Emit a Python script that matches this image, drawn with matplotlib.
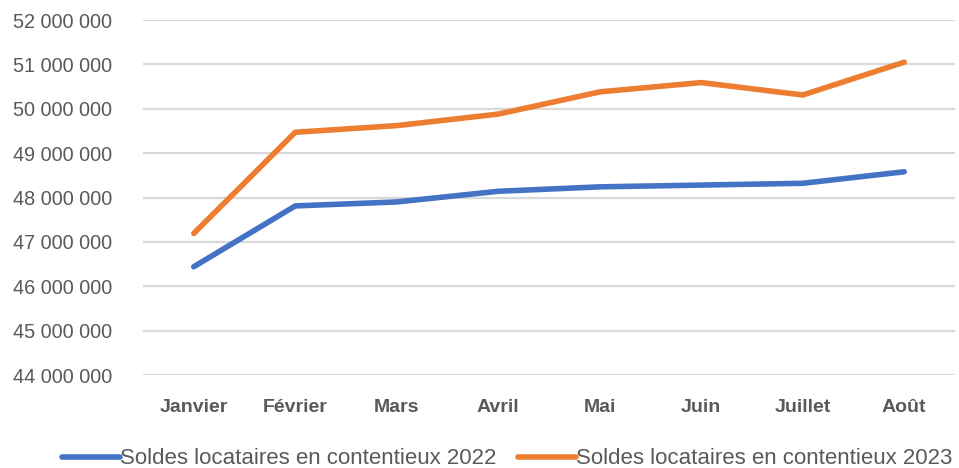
import matplotlib
matplotlib.use('Agg')
import matplotlib.pyplot as plt
from matplotlib.ticker import FuncFormatter, MultipleLocator

# Data
months = ['Janvier', 'Février', 'Mars', 'Avril', 'Mai', 'Juin', 'Juillet', 'Août']
soldes_2022 = [46440000, 47810000, 47900000, 48140000, 48240000, 48280000, 48320000, 48580000]
soldes_2023 = [47190000, 49470000, 49620000, 49880000, 50380000, 50590000, 50310000, 51050000]
label_2022 = 'Soldes locataires en contentieux 2022'
label_2023 = 'Soldes locataires en contentieux 2023'

plt.rcParams['font.family'] = ['Liberation Sans', 'DejaVu Sans']
grey = '#595959'

fig = plt.figure(figsize=(9.59, 4.68), dpi=100)
ax = fig.add_axes([143 / 959, 1 - 375 / 468, (955 - 143) / 959, (375 - 20) / 468])

x = list(range(len(months)))
ax.plot(x, soldes_2022, color='#4472C4', lw=4, solid_capstyle='round', solid_joinstyle='round', label=label_2022)
ax.plot(x, soldes_2023, color='#ED7D31', lw=4, solid_capstyle='round', solid_joinstyle='round', label=label_2023)

ax.set_xlim(-0.5, len(months) - 0.5)
ax.set_ylim(44000000, 52000000)
ax.yaxis.set_major_locator(MultipleLocator(1000000))
ax.yaxis.set_major_formatter(FuncFormatter(lambda v, p: '{:,.0f}'.format(v).replace(',', ' ')))
ax.set_xticks(x)
ax.set_xticklabels(months, fontweight='bold')

ax.grid(axis='y', color='#D9D9D9', lw=1.6)
ax.set_axisbelow(True)
for s in ax.spines.values():
    s.set_visible(False)
ax.tick_params(axis='y', length=0, pad=22, labelsize=14.3, labelcolor=grey)
ax.tick_params(axis='x', length=0, pad=17, labelsize=14, labelcolor=grey)

leg = fig.legend(loc='center', bbox_to_anchor=(507 / 959, 1 - 459 / 468), ncol=2, frameon=False,
                 fontsize=16, handlelength=2.6, handletextpad=0.0, columnspacing=1.0,
                 borderaxespad=0)
for t in leg.get_texts():
    t.set_color(grey)

fig.savefig('out.png', dpi=100)
